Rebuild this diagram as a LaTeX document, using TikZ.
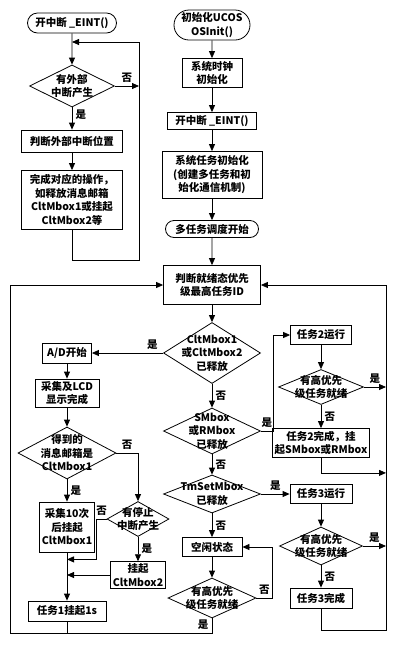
\documentclass[tikz,border=0pt]{standalone}
\usepackage{fontspec}
\setmainfont{Noto Sans CJK SC}
\usetikzlibrary{shapes.geometric,shapes.misc,arrows.meta}

\begin{document}
\begin{tikzpicture}[x=1pt,y=1pt,node distance=48pt,line width=0.8pt,font=\fontsize{10.5pt}{13.5pt}\selectfont\bfseries]

\useasboundingbox (0,0) rectangle (412,-649);

% Define block styles
\tikzstyle{startstop} = [rounded rectangle, draw=black, inner sep=2pt, align=center]
\tikzstyle{process} = [rectangle, draw=black, inner sep=2pt, align=center]
\tikzstyle{decision} = [diamond, draw=black, inner sep=0pt]
\tikzstyle{arrow} = [->,>={Triangle[length=7pt,width=6pt]}]

% Define nodes: main column
\node (init) [startstop, minimum width=80pt, minimum height=30pt] at (212,-25) {初始化UCOS\\OSInit()};
\node (clk) [process, below of=init, minimum width=60pt, minimum height=29pt] {系统时钟\\初始化};
\node (eint) [process, below of=clk, minimum width=89pt, minimum height=17pt] {开中断 \_EINT()};
\node (sysinit) [process, below of=eint, node distance=54pt, minimum width=100pt, minimum height=47pt] {系统任务初始化\\(创建多任务和初\\始化通信机制)};
\node (sched) [startstop, below of=sysinit, node distance=54pt, minimum width=97pt, minimum height=17pt] {多任务调度开始};
\node (judge) [process, below of=sched, node distance=56pt, minimum width=97pt, minimum height=39pt] {判断就绪态优先\\级最高任务ID};
\node (relA) [decision, below of=judge, node distance=68pt, minimum width=97pt, minimum height=61pt, label={[align=center]center:{CltMbox1\\或CltMbox2\\已释放}}] {};
\node (relB) [decision, below of=relA, node distance=78pt, minimum width=97pt, minimum height=46pt, label={[align=center]center:{SMbox\\或RMbox\\已释放}}] {};
\node (relC) [decision, below of=relB, node distance=63pt, minimum width=97pt, minimum height=38pt, label={[align=center]center:{TmSetMbox\\已释放}}] {};
\node (idle) [process, below of=relC, node distance=53pt, minimum width=60pt, minimum height=19pt] {空闲状态};
\node (readyI) [decision, below of=idle, node distance=51pt, minimum width=88pt, minimum height=40pt, label={[align=center]center:{有高优先\\级任务就绪}}] {};

% task 2 and task 3
\node (t2run) [process, right of=relA, node distance=109pt, yshift=18pt, minimum width=61pt, minimum height=19pt] {任务2运行};
\node (ready2) [decision, below of=t2run, node distance=52pt, minimum width=85pt, minimum height=35pt, label={[align=center]center:{有高优先\\级任务就绪}}] {};
\node (t2done) [process, below of=ready2, node distance=56pt, minimum width=87pt, minimum height=29pt] {任务2完成，挂\\起SMbox或RMbox};
\node (t3run) [process, right of=relC, node distance=109pt, minimum width=62pt, minimum height=19pt] {任务3运行};
\node (ready3) [decision, below of=t3run, node distance=52pt, minimum width=83pt, minimum height=38pt, label={[align=center]center:{有高优先\\级任务就绪}}] {};
\node (t3done) [process, below of=ready3, node distance=52pt, minimum width=62pt, minimum height=20pt] {任务3完成};

% task 1
\node (ad) [process, left of=relA, node distance=145pt, minimum width=49pt, minimum height=20pt] {A/D开始};
\node (lcd) [process, below of=ad, node distance=40pt, minimum width=64pt, minimum height=28pt] {采集及LCD\\显示完成};
\node (getbox) [decision, below of=lcd, node distance=60pt, minimum width=98pt, minimum height=52pt, label={[align=center]center:{得到的\\消息邮箱是\\CltMbox1}}] {};
\node (col10) [process, below of=getbox, node distance=74pt, minimum width=55pt, minimum height=50pt] {采集10次\\后挂起\\CltMbox1};
\node (stopint) [decision, right of=getbox, node distance=71pt, yshift=-66pt, minimum width=62pt, minimum height=35pt, label={[align=center]center:{有停止\\中断产生}}] {};
\node (hang2) [process, below of=stopint, node distance=56pt, minimum width=54pt, minimum height=26pt] {挂起\\CltMbox2};
\node (t1) [process, below of=col10, node distance=84pt, minimum width=78pt, minimum height=20pt] {任务1挂起1s};

% interrupt routine
\node (start1) [startstop, left of=init, node distance=140pt, yshift=2pt, minimum width=93pt, minimum height=20pt] {开中断 \_EINT()};
\node (extint) [decision, below of=start1, node distance=63pt, minimum width=85pt, minimum height=42pt, label={[align=center]center:{有外部\\中断产生}}] {};
\node (where) [process, below of=extint, node distance=55pt, minimum width=101pt, minimum height=22pt] {判断外部中断位置};
\node (doit) [process, below of=where, node distance=59pt, minimum width=101pt, minimum height=59pt] {完成对应的操作，\\如释放消息邮箱\\CltMbox1或挂起\\CltMbox2等};

\coordinate (loopR) at (139,-42);
\coordinate (busL) at (10,-633);
\coordinate (busR) at (386,-630);

% Draw arrows
\draw [arrow] (start1) -- (extint);
\draw [arrow] (extint.east) -- (extint.east -| loopR) node[midway, above] {否};
\draw [arrow] (extint) -- node[pos=0.35, right] {是} (where);
\draw [arrow] (where) -- (doit);
\draw [arrow] (doit.south) -- ++(0,-30) -| (loopR) -- (loopR -| start1);

\draw [arrow] (init) -- (clk);
\draw [arrow] (clk) -- (eint);
\draw [arrow] (eint) -- (sysinit);
\draw [arrow] (sysinit) -- (sched);
\draw [arrow] (sched) -- (judge);
\draw [arrow] (judge) -- (relA);

\draw [arrow] (relA.west) -- node[pos=0.15, above] {是} (ad.east);
\draw [arrow] (relA.south) -- node[midway, right] {否} (relB.north);
\draw [arrow] (relB.east) -- ++(12,0) node[midway, above] {是} |- (t2run.west);
\draw [arrow] (relB.south) -- node[midway, right] {否} (relC.north);
\draw [arrow] (relC.east) -- node[midway, above] {是} (t3run.west);
\draw [arrow] (relC.south) -- node[midway, right] {否} (idle.north);
\draw [arrow] (idle) -- (readyI);
\draw [arrow] (readyI.east) -- ++(16,0) node[midway, above] {否} |- (idle.east);
\draw [arrow] (readyI.south) |- node[pos=0.2, left] {是} (busL) |- (judge.west);

\draw [arrow] (t2run) -- (ready2);
\draw [arrow] (ready2.east) -- node[midway, above] {是} (ready2.east -| busR);
\draw [arrow] (ready2.south) -- node[midway, right] {否} (t2done.north);
\draw [arrow] (t2done.south) -- ++(0,-15) coordinate (t2end) -- (t2end -| busR);
\draw [arrow] (t3run) -- (ready3);
\draw [arrow] (ready3.east) -- node[midway, above] {是} (ready3.east -| busR);
\draw [arrow] (ready3.south) -- node[midway, right] {否} (t3done.north);
\draw [arrow] (t3done.south) |- (busR) |- (judge.east);

\draw [arrow] (ad) -- (lcd);
\draw [arrow] (lcd) -- (getbox);
\draw [arrow] (getbox.south) -- node[midway, right] {是} (col10.north);
\draw [arrow] (getbox.east) -| node[pos=0.25, above] {否} (stopint.north);
\draw [arrow] (stopint.south) -- node[midway, right] {是} (hang2.north);
\draw [arrow] (stopint.west) -- ++(-10,0) node[midway, above] {否} |- ([yshift=-7pt]col10.south);
\draw [arrow] (hang2.west) -- (hang2.west -| col10.south);
\draw [arrow] (col10.south) -- (t1.north);
\draw (t1.south) -- (t1.south |- busL);

\end{tikzpicture}
\end{document}
